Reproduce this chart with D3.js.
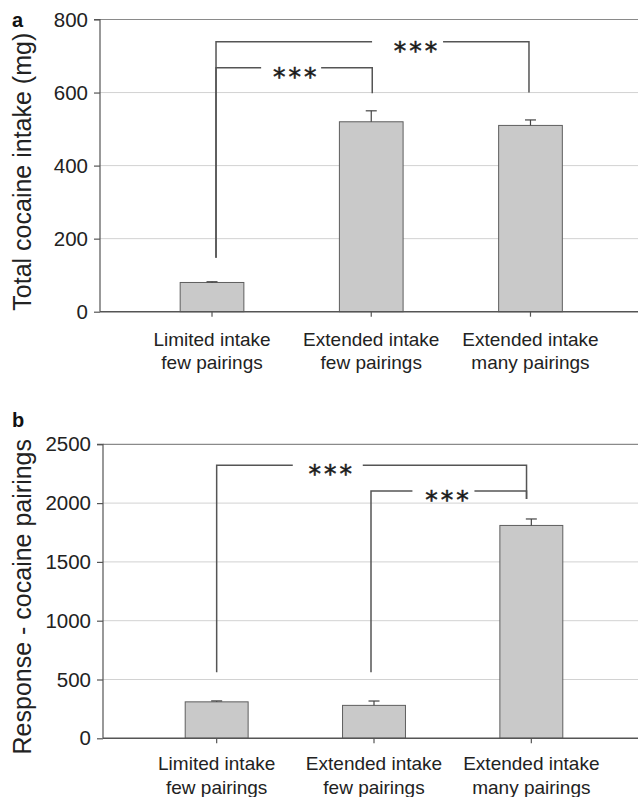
<!DOCTYPE html>
<html>
<head>
<meta charset="utf-8">
<script src="https://cdn.jsdelivr.net/npm/d3@7"></script>
<style>
  html, body { margin: 0; padding: 0; background: #fff; }
  svg { display: block; font-family: "Liberation Sans", Arial, Helvetica, sans-serif; }
</style>
</head>
<body>
<svg id="chart" width="638" height="797"></svg>
<script>
// ---------- data ----------
const categories = ["Limited intake\nfew pairings", "Extended intake\nfew pairings", "Extended intake\nmany pairings"];
const intakeMeans = [80, 520, 510];
const intakeErrors = [2, 30, 15];
const pairingMeans = [310, 280, 1810];
const pairingErrors = [8, 37, 55];
const intakeTicks = [0, 200, 400, 600, 800];
const pairingTicks = [0, 500, 1000, 1500, 2000, 2500];
const intakeTitle = "Total cocaine intake (mg)";
const pairingTitle = "Response - cocaine pairings";
// significance brackets: from/to category index, bar height (data units), bottoms of the legs
const intakeBrackets = [
  { from: 0, to: 1, y: 668, leftBottom: 148, rightBottom: 598, label: "***" },
  { from: 0, to: 2, y: 739, leftBottom: 148, rightBottom: 600, label: "***" }
];
const pairingBrackets = [
  { from: 0, to: 2, y: 2321, leftBottom: 561, rightBottom: 2035, label: "***" },
  { from: 1, to: 2, y: 2103, leftBottom: 561, rightBottom: 2035, label: "***" }
];

// ---------- layout ----------
const panels = [
  {
    tag: "a", means: intakeMeans, errors: intakeErrors, ticks: intakeTicks, title: intakeTitle,
    brackets: intakeBrackets,
    axisX: 100, right: 638, top: 19.5, bottom: 311.7, bandX0: 132.4, bandX1: 610.1,
    tagY: 26.5, titleY: 171.7, catY: 345.7,
    bracketLayout: [
      { dx1: 4, dx2: 1, at: 0.5, gapL: 33, gapR: 27 },
      { dx1: 4, dx2: -1.5, at: 0.636, gapL: 43, gapR: 28 }
    ]
  },
  {
    tag: "b", means: pairingMeans, errors: pairingErrors, ticks: pairingTicks, title: pairingTitle,
    brackets: pairingBrackets,
    axisX: 103, right: 638, top: 444.3, bottom: 738.3, bandX0: 138, bandX1: 610,
    tagY: 426.5, titleY: 596.7, catY: 770,
    bracketLayout: [
      { dx1: 0, dx2: -4.8, at: 0.365, gapL: 37, gapR: 33 },
      { dx1: -3, dx2: -4.8, at: 0.485, gapL: 34, gapR: 28 }
    ]
  }
];

const svg = d3.select("#chart");
const textColor = "#222";
const lineColor = "#555";

panels.forEach(p => {
  const g = svg.append("g");
  const yMax = p.ticks[p.ticks.length - 1];
  const y = d3.scaleLinear().domain([0, yMax]).range([p.bottom, p.top]);
  const x = d3.scaleBand().domain(d3.range(categories.length))
    .range([p.bandX0, p.bandX1]).paddingInner(0.6).paddingOuter(0.3);

  // gridlines
  g.append("g").selectAll("line").data(p.ticks.filter(t => t > 0 && t < yMax)).join("line")
    .attr("x1", p.axisX).attr("x2", p.right)
    .attr("y1", d => y(d)).attr("y2", d => y(d))
    .attr("stroke", "#d2d2d2").attr("stroke-width", 1);
  // top border
  g.append("line").attr("x1", p.axisX).attr("x2", p.right)
    .attr("y1", y(yMax)).attr("y2", y(yMax))
    .attr("stroke", "#8a8a8a").attr("stroke-width", 1.2);

  // y axis
  const yAxis = d3.axisLeft(y).tickValues(p.ticks).tickSize(6).tickPadding(6).tickFormat(d3.format("d"));
  const ya = g.append("g").attr("transform", `translate(${p.axisX},0)`).call(yAxis);
  ya.select(".domain").attr("stroke", lineColor).attr("stroke-width", 1.2).attr("d", `M-6,${y(yMax)}H0V${y(0)}`);
  ya.selectAll(".tick line").attr("stroke", lineColor).attr("stroke-width", 1.2);
  ya.selectAll(".tick text").attr("fill", textColor)
    .style("font-size", "20.5px").style("font-family", "'Liberation Sans', Arial, sans-serif");

  // bars
  g.append("g").selectAll("rect").data(p.means).join("rect")
    .attr("x", (d, i) => x(i)).attr("width", x.bandwidth())
    .attr("y", d => y(d)).attr("height", d => y(0) - y(d))
    .attr("fill", "#c9c9c9").attr("stroke", "#5e5e5e").attr("stroke-width", 1);

  // error bars (upper only)
  const eb = g.append("g").attr("stroke", "#444").attr("stroke-width", 1.2);
  p.means.forEach((m, i) => {
    const cx = x(i) + x.bandwidth() / 2;
    eb.append("line").attr("x1", cx).attr("x2", cx).attr("y1", y(m)).attr("y2", y(m + p.errors[i]));
    eb.append("line").attr("x1", cx - 5.5).attr("x2", cx + 5.5).attr("y1", y(m + p.errors[i])).attr("y2", y(m + p.errors[i]));
  });

  // x axis
  const xa = g.append("g").attr("transform", `translate(0,${y(0)})`);
  xa.append("line").attr("x1", p.axisX).attr("x2", p.right).attr("y1", 0).attr("y2", 0)
    .attr("stroke", lineColor).attr("stroke-width", 1.6);
  xa.selectAll("line.tk").data(d3.range(categories.length)).join("line").attr("class", "tk")
    .attr("x1", i => x(i) + x.bandwidth() / 2).attr("x2", i => x(i) + x.bandwidth() / 2)
    .attr("y1", 0).attr("y2", 5).attr("stroke", lineColor).attr("stroke-width", 1.2);

  // category labels
  categories.forEach((c, i) => {
    const t = g.append("text").attr("text-anchor", "middle").attr("fill", textColor)
      .style("font-size", "19px")
      .attr("x", x(i) + x.bandwidth() / 2).attr("y", p.catY);
    c.split("\n").forEach((line, k) => {
      t.append("tspan").attr("x", x(i) + x.bandwidth() / 2).attr("dy", k === 0 ? 0 : 23.5).text(line);
    });
  });

  // brackets
  const bg = g.append("g").attr("stroke", lineColor).attr("stroke-width", 1.5).attr("fill", "none");
  p.brackets.forEach((b, k) => {
    const L = p.bracketLayout[k];
    const x1 = x(b.from) + x.bandwidth() / 2 + L.dx1;
    const x2 = x(b.to) + x.bandwidth() / 2 + L.dx2;
    const yb = y(b.y);
    const tx = x1 + (x2 - x1) * L.at;
    bg.append("path").attr("d", `M${x1},${y(b.leftBottom)}V${yb}H${tx - L.gapL}`);
    bg.append("path").attr("d", `M${tx + L.gapR},${yb}H${x2}V${y(b.rightBottom)}`);
    g.append("text").attr("x", tx + 2).attr("y", yb + 17).attr("text-anchor", "middle")
      .attr("fill", "#1a1a1a").attr("stroke", "#1a1a1a").attr("stroke-width", 0.5)
      .style("font-family", "'DejaVu Sans', sans-serif")
      .style("font-size", "25px").style("letter-spacing", "3px")
      .text(b.label);
  });

  // panel tag
  g.append("text").attr("x", 12).attr("y", p.tagY).attr("fill", "#111")
    .style("font-size", "20px").style("font-weight", "bold").text(p.tag);

  // y title
  g.append("text").attr("transform", `translate(30.5,${p.titleY}) rotate(-90)`)
    .attr("text-anchor", "middle").attr("fill", textColor).style("font-size", "25px").text(p.title);
});
</script>
</body>
</html>
